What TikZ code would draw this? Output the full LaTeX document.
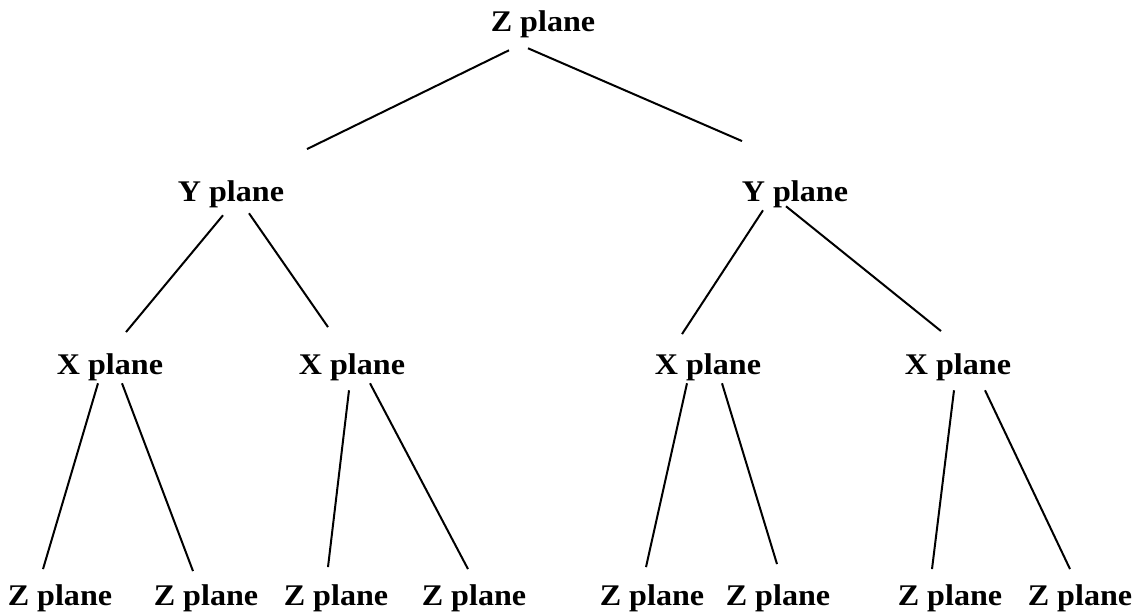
\documentclass[tikz,border=0pt]{standalone}
\usepackage{fontspec}
\setmainfont{Liberation Serif}[FakeStretch=1.07]
\usetikzlibrary{calc}

\begin{document}
\begin{tikzpicture}[
  x=0.5pt, y=-0.5pt,
  plane/.style={anchor=base, inner sep=0pt, font=\fontsize{15}{18}\selectfont\bfseries},
  edge/.style={line width=1pt}
]
\useasboundingbox (0,0) rectangle (1138,613);
% levels
\node[plane] (z0) at (543,32) {Z plane};
\node[plane] (y1) at (231,202) {Y plane};
\node[plane] (y2) at (795,202) {Y plane};
\node[plane] (x1) at (110,375) {X plane};
\node[plane] (x2) at (352,375) {X plane};
\node[plane] (x3) at (708,375) {X plane};
\node[plane] (x4) at (958,375) {X plane};
\node[plane] (z1) at (60,605)  {Z plane};
\node[plane] (z2) at (206,605) {Z plane};
\node[plane] (z3) at (336,605) {Z plane};
\node[plane] (z4) at (474,605) {Z plane};
\node[plane] (z5) at (652,605) {Z plane};
\node[plane] (z6) at (778,605) {Z plane};
\node[plane] (z7) at (950,605) {Z plane};
\node[plane] (z8) at (1080,605) {Z plane};
% branches
\draw[edge] ($(z0.south)+(-34,11.5)$) -- ($(y1.north)+(76,-31.7)$);
\draw[edge] ($(z0.south)+(-15,9.5)$) -- ($(y2.north)+(-53,-39.7)$);
\draw[edge] ($(y1.south)+(-8,6.5)$) -- ($(x1.north)+(16,-21.7)$);
\draw[edge] ($(y1.south)+(18,4.5)$) -- ($(x2.north)+(-24,-26.7)$);
\draw[edge] ($(y2.south)+(-32,1.5)$) -- ($(x3.north)+(-26,-19.7)$);
\draw[edge] ($(y2.south)+(-9,-2.5)$) -- ($(x4.north)+(-17,-22.7)$);
\draw[edge] ($(x1.south)+(-12,1.5)$) -- ($(z1.north)+(-17,-14.7)$);
\draw[edge] ($(x1.south)+(12,1.5)$) -- ($(z2.north)+(-13,-12.7)$);
\draw[edge] ($(x2.south)+(-3,8.5)$) -- ($(z3.north)+(-8,-16.7)$);
\draw[edge] ($(x2.south)+(18,1.5)$) -- ($(z4.north)+(-6,-14.7)$);
\draw[edge] ($(x3.south)+(-21,1.5)$) -- ($(z5.north)+(-6,-16.7)$);
\draw[edge] ($(x3.south)+(14,1.5)$) -- ($(z6.north)+(-1,-19.7)$);
\draw[edge] ($(x4.south)+(-4,8.5)$) -- ($(z7.north)+(-18,-14.7)$);
\draw[edge] ($(x4.south)+(27,8.5)$) -- ($(z8.north)+(-10,-14.7)$);
\end{tikzpicture}
\end{document}
